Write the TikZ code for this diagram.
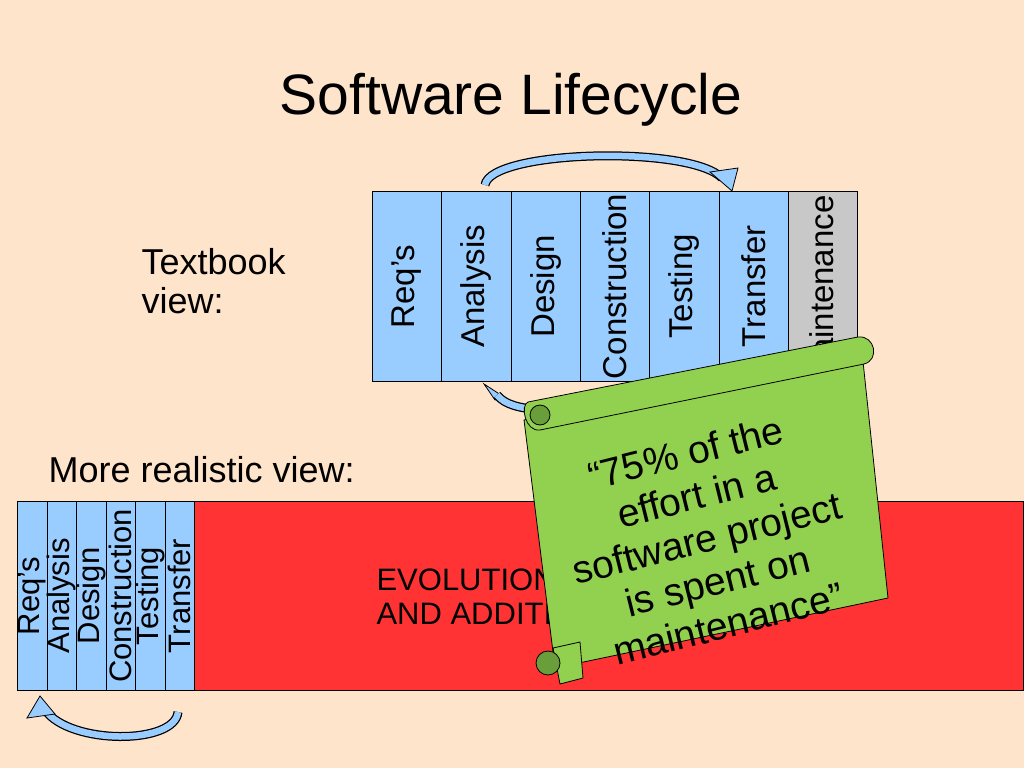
\documentclass[tikz,border=0pt]{standalone}
\usepackage{fontspec}
\setmainfont{Liberation Sans}
\usetikzlibrary{calc}
\definecolor{bg}{HTML}{FFE4CC}
\definecolor{phase}{HTML}{99CCFF}
\definecolor{maint}{HTML}{C8C8C8}
\definecolor{evo}{HTML}{FF3333}
\definecolor{scroll}{HTML}{92D050}
\definecolor{scrolld}{HTML}{6A9E3A}
\begin{document}
\begin{tikzpicture}[x=1pt,y=-1pt,
  col/.style={draw=black, line width=0.8pt, fill=phase, minimum width=69.3pt, minimum height=190pt, inner sep=0pt, anchor=north west},
  scol/.style={draw=black, line width=0.8pt, fill=phase, minimum width=29.5pt, minimum height=189pt, inner sep=0pt, anchor=north west},
  vtxt/.style={rotate=90, font=\fontsize{33}{34}\selectfont},
  svtxt/.style={rotate=90, font=\fontsize{31}{30}\selectfont, inner sep=0pt},
  barrow/.style={draw=black, line width=9pt},
  barrowin/.style={draw=phase, line width=6.5pt}]
\fill[bg] (0,0) rectangle (1024,768);
\useasboundingbox (0,0) rectangle (1024,768);
\node (title) at (511,100) {\fontsize{57}{60}\selectfont Software Lifecycle};
\node[anchor=west, align=left, font=\fontsize{36}{39}\selectfont] (tb) at (138,281) {Textbook\\view:};
\node[anchor=west, font=\fontsize{36}{38}\selectfont] (mr) at (45,470) {More realistic view:};
% top columns
\foreach \n/\t [count=\i from 0] in {c1/Req's,c2/Analysis,c3/Design,c4/Construction,c5/Testing,c6/Transfer}{
  \node[col] (\n) at ({372+69.3*\i},191) {};
  \node[vtxt] at ($(\n.center)$) {\t};
}
\node[col, fill=maint] (c7) at (788,191) {};
\begin{scope}
\clip (788,191) rectangle (857,381);
\node[vtxt] at (822,290) {Maintenance};
\end{scope}
% top arrow
\coordinate (a1) at (485,185);
\coordinate (a2) at (722,178);
\draw[barrow] (a1) .. controls (490,150) and (690,145) .. (a2);
\draw[barrowin] (a1) .. controls (490,150) and (690,145) .. (a2);
\fill[phase, draw=black, line width=0.8pt] (710,172) -- (738,168) -- (732,191) -- cycle;
% lower arrow (hidden under scroll)
\fill[phase, draw=black, line width=0.8pt] (484,384) -- (504,397) -- (495,400) -- cycle;
\draw[barrow] (497,395) .. controls (505,405) and (520,408) .. (540,410);
\draw[barrowin] (497,395) .. controls (505,405) and (520,408) .. (540,410);
% bottom
\node[draw=black, line width=0.8pt, fill=evo, minimum width=829pt, minimum height=189pt, inner sep=0pt, anchor=north west] (evo) at (194,501) {};
\node[anchor=west, align=left, font=\fontsize{31}{34}\selectfont] (evt) at (373,597) {EVOLUTION\\AND ADDITIONS};
\foreach \n/\t [count=\i from 0] in {s1/Req's,s2/Analysis,s3/Design,s4/Construction,s5/Testing,s6/Transfer}{
  \node[scol] (\n) at ({17+29.5*\i},501) {};
  \node[svtxt] at ($(\n.center)+(0,0)$) {\t};
}
\coordinate (b1) at (178,712);
\coordinate (b2) at (45,710);
\draw[barrow] (b1) .. controls (175,745) and (70,745) .. (b2);
\draw[barrowin] (b1) .. controls (175,745) and (70,745) .. (b2);
\fill[phase, draw=black, line width=0.8pt] (27,718) -- (40,696) -- (55,714) -- cycle;
% scroll
\begin{scope}[line width=0.8pt]
\fill[scroll, draw=black] (524,420) -- (862,352) -- (888,598) -- (555,668) -- cycle;
\fill[scroll, draw=black] (528,402) -- (858,337) .. controls (875,335) and (880,360) .. (864,364) -- (540,430) .. controls (525,432) and (520,405) .. (528,402) -- cycle;
\fill[scrolld, draw=black] (540,415) circle (10);
\fill[scroll, draw=black] (553,648) -- (580,642) -- (583,678) -- (560,684) -- cycle;
\fill[scrolld, draw=black] (548,663) circle (12);
\node[rotate=14, align=center, font=\fontsize{39}{44}\selectfont] (quote) at (707,538) {“75\% of the\\effort in a\\software project\\is spent on\\maintenance”};
\end{scope}
\end{tikzpicture}
\end{document}
